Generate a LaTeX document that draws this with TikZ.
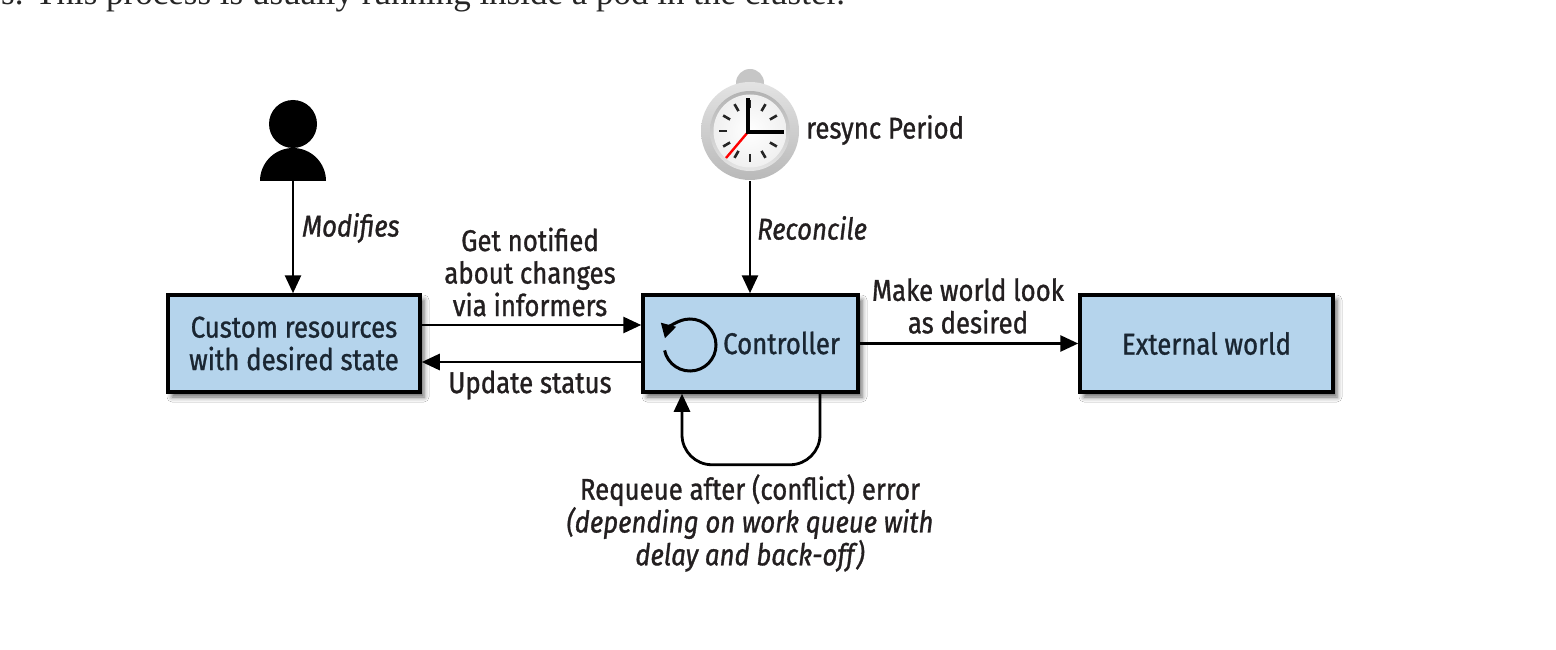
\documentclass[tikz,border=0pt]{standalone}
\usepackage{fontspec}
\setmainfont{Fira Sans}[FakeStretch=0.86, FakeBold=1]
\newfontfamily\serifbody{Liberation Serif}
\usetikzlibrary{arrows.meta,shadows.blur,calc}
\definecolor{boxfill}{RGB}{181,212,236}
\definecolor{boxtext}{RGB}{26,38,50}
\definecolor{lbltext}{RGB}{35,31,32}
\newcommand\lblfont{\fontsize{30}{32.5}\selectfont}
\newcommand\lblit{\fontsize{30}{32.5}\selectfont\itshape}
\begin{document}
\begin{tikzpicture}[x=1pt,y=-1pt,
  box/.style={draw=black, line width=3.5pt, fill=boxfill, minimum height=97pt,
    inner sep=0pt, text=boxtext, align=center, font=\lblfont,
    blur shadow={shadow xshift=4pt, shadow yshift=-5pt, shadow blur radius=5pt, shadow opacity=60}},
  arr/.style={line width=2.8pt, -{Triangle[length=18pt,width=16pt]}},
  lbl/.style={text=lbltext, align=center, font=\lblfont, inner sep=0pt},
  lblit/.style={lbl, font=\lblit}]
\useasboundingbox (0,0) rectangle (1556,650);
\begin{scope}
\clip (0,0) rectangle (1556,650);
\fill[white] (0,0) rectangle (1556,650);
% cut-off running text at the top
\node[anchor=base west, inner sep=0pt, text=black!85,
  font=\serifbody\fontsize{35}{40}\selectfont] (intro) at (1,5)
  {s. This process is usually running inside a pod in the cluster.};

% boxes
\node[box, minimum width=252pt] (cr) at (294,343.5) {Custom resources\\with desired state};
\node[box, minimum width=215pt] (ctrl) at (750.5,343.5) {};
\node[box, minimum width=253pt] (ext) at (1206.5,343.5) {External world};

% controller content
\node[lbl, text=boxtext, anchor=west] (ctrltext) at (723,343) {Controller};
\begin{scope}[shift={(690,345)}, yscale=-1]
  \draw[line width=3pt, black, -{Triangle[length=14pt,width=15pt]}]
    (192:26) arc[start angle=192, end angle=525, radius=26];
\end{scope}

% person
\node[circle, fill=black, minimum size=48pt, inner sep=0pt] (head) at (293,124) {};
\fill[black] (260,181) arc[start angle=180, end angle=360, radius=33] -- cycle;
\coordinate (personfoot) at (293,181);

% clock
\begin{scope}[shift={(750,131)}, yscale=-1]
  \fill[gray!45] (0,48) circle (14);
  \shade[top color=gray!22, bottom color=gray!55] (0,0) circle (49);
  \shade[top color=gray!60, bottom color=gray!20] (0,0) circle (40);
  \shade[inner color=white, outer color=gray!12] (0,0) circle (36.5);
  \foreach \a in {0,30,...,330}
    \draw[line width=2.6pt, black!85] (\a:23) -- (\a:31);
  \draw[line width=2.4pt, red] (-2,-1) -- (-24,-27);
  \draw[line width=4.5pt, black] (-2,-1) -- (-2,33);
  \draw[line width=4.5pt, black] (-4,-1) -- (34,-1);
\end{scope}
\node[circle, minimum size=100pt, inner sep=0pt] (clock) at (750,131) {};

% connectors
\draw[arr] (personfoot) -- (personfoot |- cr.north);
\draw[arr] ([yshift=18.5pt]cr.east) -- ([yshift=18.5pt]ctrl.west);
\draw[arr] ([yshift=-18.5pt]ctrl.west) -- ([yshift=-18.5pt]cr.east);
\draw[arr] (clock.south) -- (clock.south |- ctrl.north);
\draw[arr] (ctrl.east) -- (ext.west);
\draw[arr, rounded corners=30pt] ([xshift=69.5pt]ctrl.south) -- ++(0,71)
  -| ([xshift=-68.5pt]ctrl.south);

% labels
\node[lblit, anchor=west] (modlbl) at (302,228) {Modifies};
\node[lbl] (notify) at (530,272) {Get notified\\about changes\\via informers};
\node[lbl] (update) at (530,385) {Update status};
\node[lblit, anchor=west] (reclbl) at (757,228) {Reconcile};
\node[lbl, anchor=west] (resync) at (806,130) {resync Period};
\node[lbl] (make) at (968,306) {Make world look\\as desired};
\node[lbl, font=\fontsize{30}{30}\selectfont] (requeue) at (750,523)
  {Requeue after (conflict) error\\\textit{(depending on work queue with}\\\textit{delay and back-off)}};
\end{scope}
\end{tikzpicture}
\end{document}
